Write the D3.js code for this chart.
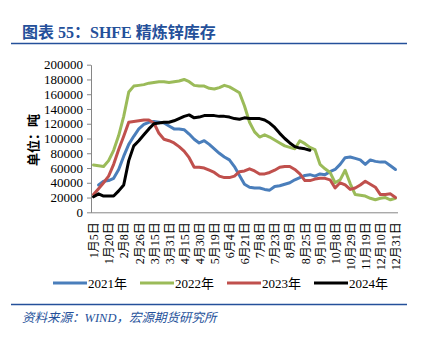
<!DOCTYPE html>
<html>
<head>
<meta charset="utf-8">
<script src="https://cdn.jsdelivr.net/npm/d3@7"></script>
<style>
  html, body { margin: 0; padding: 0; background: #fff; }
  svg { display: block; }
</style>
</head>
<body>
<svg id="chart" width="423" height="345"></svg>
<script>
// ---- data (tons) ----
const tickLabels = ["1月5日","1月20日","2月8日","2月26日","3月15日","3月31日","4月15日","4月30日","5月19日","6月4日","6月21日","7月8日","7月23日","8月9日","8月25日","9月10日","10月8日","10月29日","11月19日","12月10日","12月31日"];
const labelEvery = 3;
const seriesNames = ["2021年","2022年","2023年","2024年"];
const seriesColors = ["#4A7EBB","#9BBB59","#C0504D","#000000"];
const yTicks = [0,20000,40000,60000,80000,100000,120000,140000,160000,180000,200000];

const s2021 = [null,37000,42000,43000,46000,58000,76000,92000,103000,113000,
  119000,122000,123000,122000,121000,117000,113000,113000,112000,106000,
  99000,94000,97000,92000,86000,80000,75000,71000,62000,50000,
  38000,34000,33000,33000,31000,30000,35000,36000,38000,40000,
  44000,47000,50000,51000,49000,52000,51000,55000,58000,65000,
  74000,75000,73000,71000,65000,71000,69000,68000,68000,63000,
  58000];
const s2022 = [64000,63000,62000,70000,84000,104000,130000,163000,171000,172000,
  173000,175000,176000,177000,177000,176000,177000,178000,180000,177000,
  172000,171000,171000,168000,167000,169000,172000,170000,166000,162000,
  144000,122000,109000,102000,105000,102000,98000,94000,90000,88000,
  86000,97000,93000,88000,85000,65000,59000,54000,40000,44000,
  57000,39000,24000,23000,22000,19000,17000,19000,20000,17000,
  19000];
const s2023 = [24000,32000,40000,49000,65000,85000,103000,122000,123000,124000,
  125000,125000,121000,107000,99000,97000,94000,89000,83000,74000,
  61000,61000,60000,57000,54000,49000,47000,47000,49000,55000,
  56000,59000,56000,52000,52000,54000,57000,61000,62000,62000,
  58000,52000,43000,43000,45000,46000,46000,44000,33000,40000,
  37000,31000,33000,37000,42000,38000,34000,24000,24000,25000,
  20000];
const s2024 = [21000,25000,22000,22000,22000,29000,37000,70000,90000,97000,
  105000,113000,120000,121000,122000,122000,124000,127000,130000,132000,
  128000,129000,131000,131000,131000,130000,130000,129000,127000,126000,
  128000,127000,127000,127000,125000,121000,115000,107000,100000,94000,
  89000,87000,86000,84000,null,null,null,null,null,null,
  null,null,null,null,null,null,null,null,null,null,
  null];
const seriesData = [s2021, s2022, s2023, s2024];

// ---- layout ----
const svg = d3.select("#chart");
const blue = "#24509A";
const serif = "'Times New Roman','Liberation Serif','Noto Sans CJK SC',serif";
svg.append("rect").attr("width",423).attr("height",345).attr("fill","#fff");

// title
svg.append("text").attr("x",22).attr("y",38)
  .attr("font-family",serif).attr("font-weight","bold").attr("font-size",16)
  .attr("fill",blue).text("图表 55：SHFE 精炼锌库存");
svg.append("line").attr("x1",11).attr("x2",407).attr("y1",43.5).attr("y2",43.5)
  .attr("stroke",blue).attr("stroke-width",1.6);

const N = s2021.length;
const x = d3.scalePoint().domain(d3.range(N)).range([91,398]).padding(0.5);
const y = d3.scaleLinear().domain([0,200000]).range([212.3,64.7]);

// y axis
const yAxis = svg.append("g").attr("transform","translate(91,0)")
  .call(d3.axisLeft(y).tickValues(yTicks).tickFormat(d3.format("d")).tickSize(4).tickPadding(4).tickSizeOuter(0));
yAxis.select(".domain").attr("stroke","#868686");
yAxis.selectAll(".tick line").attr("stroke","#868686");
yAxis.selectAll("text").attr("font-family",serif).attr("font-size",13).attr("fill","#000");

// x axis
const xAxis = svg.append("g").attr("transform","translate(0,212.3)")
  .call(d3.axisBottom(x).tickValues(d3.range(0,N,labelEvery))
    .tickFormat(i => tickLabels[i/labelEvery]).tickSize(0).tickSizeOuter(0));
xAxis.select(".domain").attr("stroke","#868686").attr("d","M91,0.5H398");
xAxis.selectAll("text")
  .attr("font-family",serif).attr("font-size",12).attr("fill","#000")
  .attr("transform","rotate(-90)")
  .attr("text-anchor","end")
  .attr("x",-10).attr("y",0).attr("dy","0.35em");

// y label
svg.append("text").attr("transform","translate(38,140) rotate(-90)")
  .attr("text-anchor","middle").attr("font-family",serif).attr("font-weight","bold")
  .attr("font-size",13).attr("fill","#000").text("单位：吨");

// lines
const line = d3.line().defined(d => d != null).x((d,i) => x(i)).y(d => y(d));
seriesData.forEach((s,k) => {
  svg.append("path").datum(s).attr("d", line)
    .attr("fill","none").attr("stroke",seriesColors[k]).attr("stroke-width",3)
    .attr("stroke-linejoin","round").attr("stroke-linecap","round");
});

// legend
const legend = svg.append("g");
seriesNames.forEach((name,k) => {
  const lx = 53 + k*87;
  legend.append("line").attr("x1",lx).attr("x2",lx+34).attr("y1",283).attr("y2",283)
    .attr("stroke",seriesColors[k]).attr("stroke-width",3);
  legend.append("text").attr("x",lx+35).attr("y",283).attr("dy","0.35em")
    .attr("font-family",serif).attr("font-size",13).attr("fill","#000").text(name);
});

// bottom rule and source
svg.append("line").attr("x1",11).attr("x2",407).attr("y1",304.5).attr("y2",304.5)
  .attr("stroke",blue).attr("stroke-width",1.6);
svg.append("text").attr("x",22).attr("y",322)
  .attr("font-family",serif).attr("font-style","italic").attr("font-size",12.5)
  .attr("fill",blue).text("资料来源：WIND，宏源期货研究所");
</script>
</body>
</html>
